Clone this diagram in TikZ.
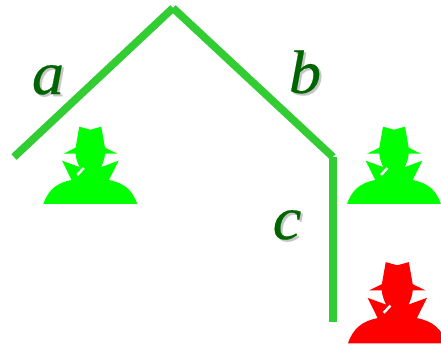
\documentclass[tikz,border=0pt]{standalone}
\usepackage{fontspec}
\setmainfont{Liberation Serif}
\newfontfamily\fonteletra[ItalicFeatures={FakeBold=0.3}]{Liberation Serif}
\definecolor{corlinha}{RGB}{50,205,50}
\definecolor{corletra}{RGB}{0,100,0}
\definecolor{corespiao}{RGB}{0,255,0}
\newcommand{\sombreado}[1]{\scalebox{1.05}[1]{\makebox[0pt][l]{\kern1.2pt\raisebox{-1.2pt}{\textcolor{gray!45}{#1}}}#1}}
\tikzset{
    lado/.style={line width=4.4pt, corlinha},
    rotulo/.style={corletra, font=\fontsize{35}{35}\fonteletra\itshape, inner sep=0pt},
    agente/.pic={
        \fill[pic actions] (-11,77.3) -- (0,74.3) -- (11,77.3) -- (14.7,56.3) -- (27,50.3) -- (14.7,50.3)
            .. controls (14.5,45) and (12.5,41) .. (10,35) -- (-10,35)
            .. controls (-12.5,41) and (-14.5,45) .. (-14.7,50.3) -- (-27,50.3) -- (-14.7,56.3) -- cycle;
        \fill[pic actions] (-28.3,43.3) -- (-11,37) -- (11,37) -- (28.3,43.3) -- (18.7,24)
            .. controls (34,21) and (42,14) .. (47,0) -- (-47,0)
            .. controls (-42,14) and (-34,21) .. (-18.7,24) -- cycle;
        \draw[white, line width=1.4pt] (-13,29) -- (-6.5,36);
    }
}
\begin{document}
\begin{tikzpicture}[x=0.02cm, y=0.02cm]
        \clip (0,0) rectangle (441,345);
        % Vertices
        \coordinate (inicio) at (14,188);
        \coordinate (topo) at (173,337);
        \coordinate (canto) at (333,188);
        \coordinate (fim) at (333,23);
        % Lados
        \draw[lado] (inicio) -- (topo);
        \draw[lado] (topo) -- (canto);
        \draw[lado] (canto) -- (fim);
        % Letras
        \node[rotulo] (a) at (48,264) {\sombreado{a}};
        \node[rotulo] (b) at (305,272) {\sombreado{b}};
        \node[rotulo] (c) at (287,119) {\sombreado{c}};
        % Agentes
        \pic[fill=corespiao] at (90.3,141) {agente};
        \pic[fill=corespiao] at (394,141) {agente};
        \pic[fill=red, scale=1.05] at (397.3,1.7) {agente};
    \end{tikzpicture}
\end{document}
